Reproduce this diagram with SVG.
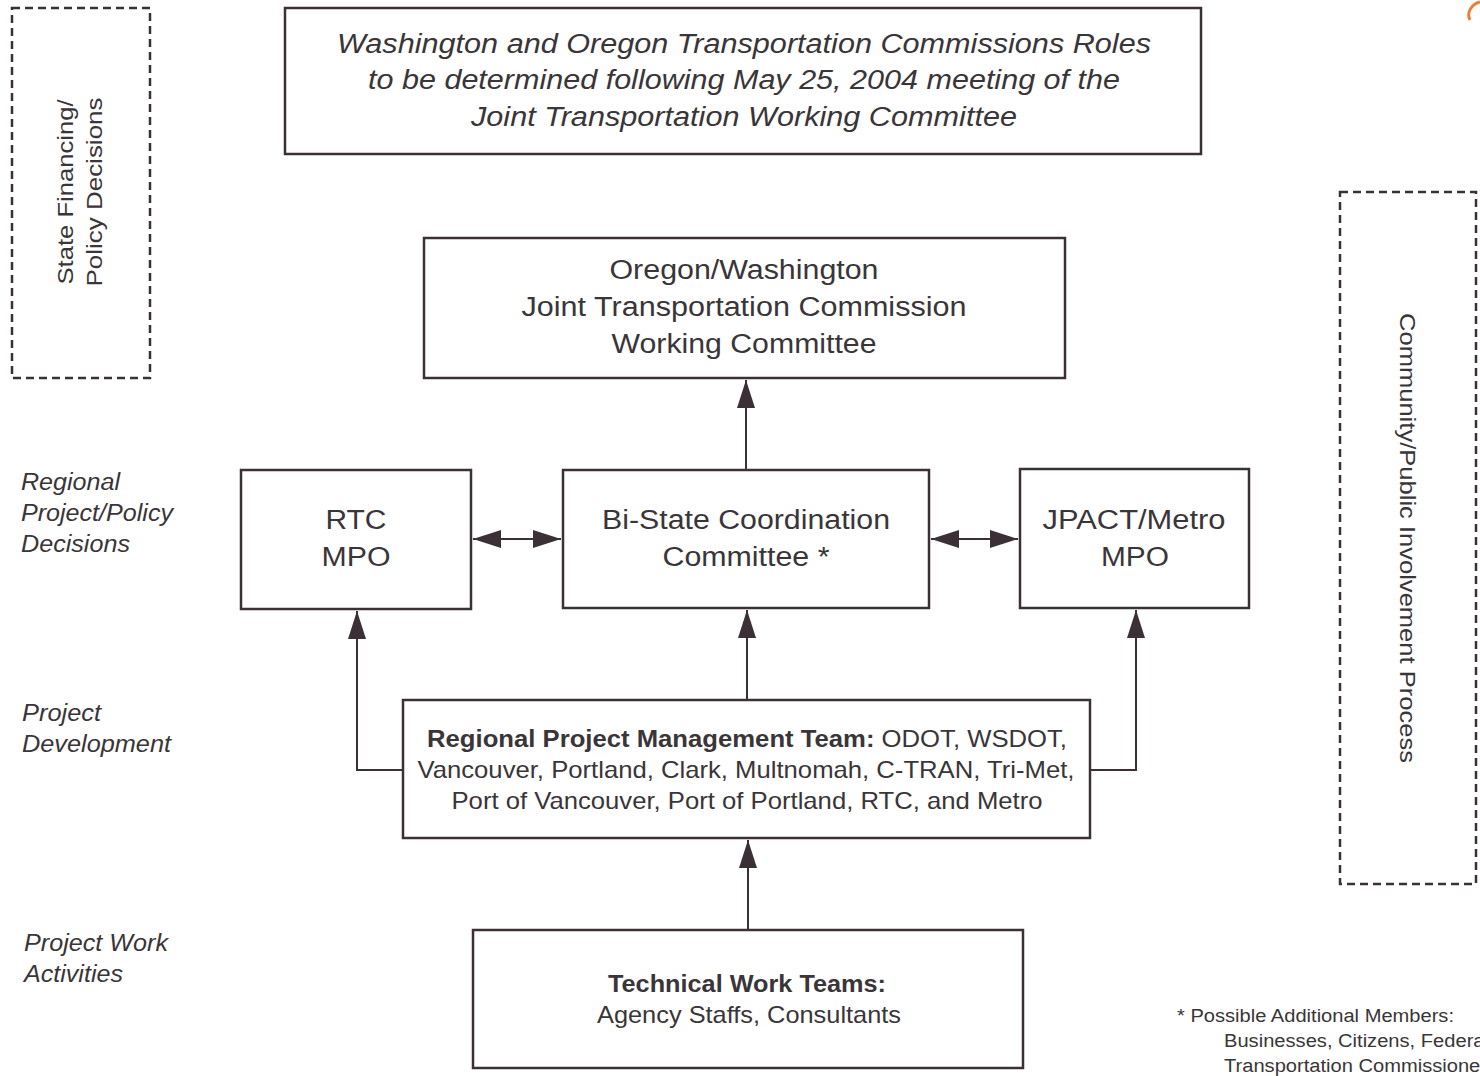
<svg xmlns="http://www.w3.org/2000/svg" width="1480" height="1076" viewBox="0 0 1480 1076">
<style>
.box{fill:#fff;stroke:#3b3036;stroke-width:2.5}
.dash{fill:none;stroke:#3b3036;stroke-width:2.5;stroke-dasharray:8 5}
.ln{fill:none;stroke:#3b3036;stroke-width:2}
.t{font-family:"Liberation Sans",Arial,sans-serif;fill:#3a3538;text-anchor:middle}
.it{font-style:italic}
.lab{font-family:"Liberation Sans",Arial,sans-serif;fill:#3a3538;font-style:italic;font-size:23px}
.b{font-weight:bold}
</style>
<defs>
<marker id="ah" viewBox="0 0 28 18" refX="28" refY="9" markerWidth="28" markerHeight="18" markerUnits="userSpaceOnUse" orient="auto-start-reverse">
<path d="M0,0 L28,9 L0,18 Z" fill="#3b3036"/>
</marker>
</defs>
<rect width="1480" height="1076" fill="#fff"/>
<path d="M1470,20 C1466,12 1472,4 1480,2" fill="none" stroke="#e8803a" stroke-width="3"/>

<g id="connectors">
<line class="ln" x1="746" y1="470" x2="746" y2="380" marker-end="url(#ah)"/>
<line class="ln" x1="473" y1="539" x2="561" y2="539" marker-start="url(#ah)" marker-end="url(#ah)"/>
<line class="ln" x1="931" y1="539" x2="1018" y2="539" marker-start="url(#ah)" marker-end="url(#ah)"/>
<polyline class="ln" points="403,770 357,770 357,611" marker-end="url(#ah)"/>
<line class="ln" x1="747" y1="700" x2="747" y2="610" marker-end="url(#ah)"/>
<polyline class="ln" points="1090,770 1136,770 1136,610" marker-end="url(#ah)"/>
<line class="ln" x1="748" y1="930" x2="748" y2="840" marker-end="url(#ah)"/>
</g>

<g id="state-financing">
<rect class="dash" x="12" y="8" width="138" height="370"/>
<text class="t" font-size="22" textLength="185" lengthAdjust="spacingAndGlyphs" transform="translate(73,192) rotate(-90)">State Financing/</text>
<text class="t" font-size="22" textLength="189" lengthAdjust="spacingAndGlyphs" transform="translate(102,192) rotate(-90)">Policy Decisions</text>
</g>

<g id="commissions-roles">
<rect class="box" x="285" y="8" width="916" height="146"/>
<text class="t it" font-size="27" x="744" y="53" textLength="814" lengthAdjust="spacingAndGlyphs">Washington and Oregon Transportation Commissions Roles</text>
<text class="t it" font-size="27" x="744" y="89" textLength="752" lengthAdjust="spacingAndGlyphs">to be determined following May 25, 2004 meeting of the</text>
<text class="t it" font-size="27" x="744" y="126" textLength="546" lengthAdjust="spacingAndGlyphs">Joint Transportation Working Committee</text>
</g>

<g id="joint-committee">
<rect class="box" x="424" y="238" width="641" height="140"/>
<text class="t" font-size="27" x="744" y="279" textLength="269" lengthAdjust="spacingAndGlyphs">Oregon/Washington</text>
<text class="t" font-size="27" x="744" y="316" textLength="445" lengthAdjust="spacingAndGlyphs">Joint Transportation Commission</text>
<text class="t" font-size="27" x="744" y="353" textLength="265" lengthAdjust="spacingAndGlyphs">Working Committee</text>
</g>

<g id="rtc">
<rect class="box" x="241" y="470" width="230" height="139"/>
<text class="t" font-size="27" x="356" y="529" textLength="61" lengthAdjust="spacingAndGlyphs">RTC</text>
<text class="t" font-size="27" x="356" y="566" textLength="69" lengthAdjust="spacingAndGlyphs">MPO</text>
</g>

<g id="bi-state">
<rect class="box" x="563" y="470" width="366" height="138"/>
<text class="t" font-size="27" x="746" y="529" textLength="288" lengthAdjust="spacingAndGlyphs">Bi-State Coordination</text>
<text class="t" font-size="27" x="746" y="566" textLength="167" lengthAdjust="spacingAndGlyphs">Committee *</text>
</g>

<g id="jpact">
<rect class="box" x="1020" y="469" width="229" height="139"/>
<text class="t" font-size="27" x="1134" y="529" textLength="183" lengthAdjust="spacingAndGlyphs">JPACT/Metro</text>
<text class="t" font-size="27" x="1135" y="566" textLength="68" lengthAdjust="spacingAndGlyphs">MPO</text>
</g>

<g id="rpmt">
<rect class="box" x="403" y="700" width="687" height="138"/>
<text class="t" font-size="24" x="747" y="747" textLength="640" lengthAdjust="spacingAndGlyphs"><tspan class="b">Regional Project Management Team:</tspan> ODOT, WSDOT,</text>
<text class="t" font-size="24" x="746" y="778" textLength="657" lengthAdjust="spacingAndGlyphs">Vancouver, Portland, Clark, Multnomah, C-TRAN, Tri-Met,</text>
<text class="t" font-size="24" x="747" y="809" textLength="591" lengthAdjust="spacingAndGlyphs">Port of Vancouver, Port of Portland, RTC, and Metro</text>
</g>

<g id="technical-teams">
<rect class="box" x="473" y="930" width="550" height="138"/>
<text class="t b" font-size="24" x="747" y="992" textLength="278" lengthAdjust="spacingAndGlyphs">Technical Work Teams:</text>
<text class="t" font-size="24" x="749" y="1023" textLength="304" lengthAdjust="spacingAndGlyphs">Agency Staffs, Consultants</text>
</g>

<g id="community">
<rect class="dash" x="1340" y="192" width="136" height="692"/>
<text class="t" font-size="22" textLength="450" lengthAdjust="spacingAndGlyphs" transform="translate(1400,538) rotate(90)">Community/Public Involvement Process</text>
</g>

<g id="level-labels">
<text class="lab" x="21" y="490" textLength="99" lengthAdjust="spacingAndGlyphs">Regional</text>
<text class="lab" x="21" y="521" textLength="152" lengthAdjust="spacingAndGlyphs">Project/Policy</text>
<text class="lab" x="21" y="552" textLength="109" lengthAdjust="spacingAndGlyphs">Decisions</text>
<text class="lab" x="22" y="721" textLength="79" lengthAdjust="spacingAndGlyphs">Project</text>
<text class="lab" x="22" y="752" textLength="149" lengthAdjust="spacingAndGlyphs">Development</text>
<text class="lab" x="24" y="951" textLength="144" lengthAdjust="spacingAndGlyphs">Project Work</text>
<text class="lab" x="24" y="982" textLength="99" lengthAdjust="spacingAndGlyphs">Activities</text>
</g>

<g id="footnote" font-family="Liberation Sans,Arial,sans-serif" font-size="18" fill="#3a3538">
<text x="1177" y="1022" textLength="277" lengthAdjust="spacingAndGlyphs">* Possible Additional Members:</text>
<text x="1224" y="1047" textLength="265" lengthAdjust="spacingAndGlyphs">Businesses, Citizens, Federal</text>
<text x="1224" y="1072" textLength="273" lengthAdjust="spacingAndGlyphs">Transportation Commissioners</text>
</g>
</svg>
